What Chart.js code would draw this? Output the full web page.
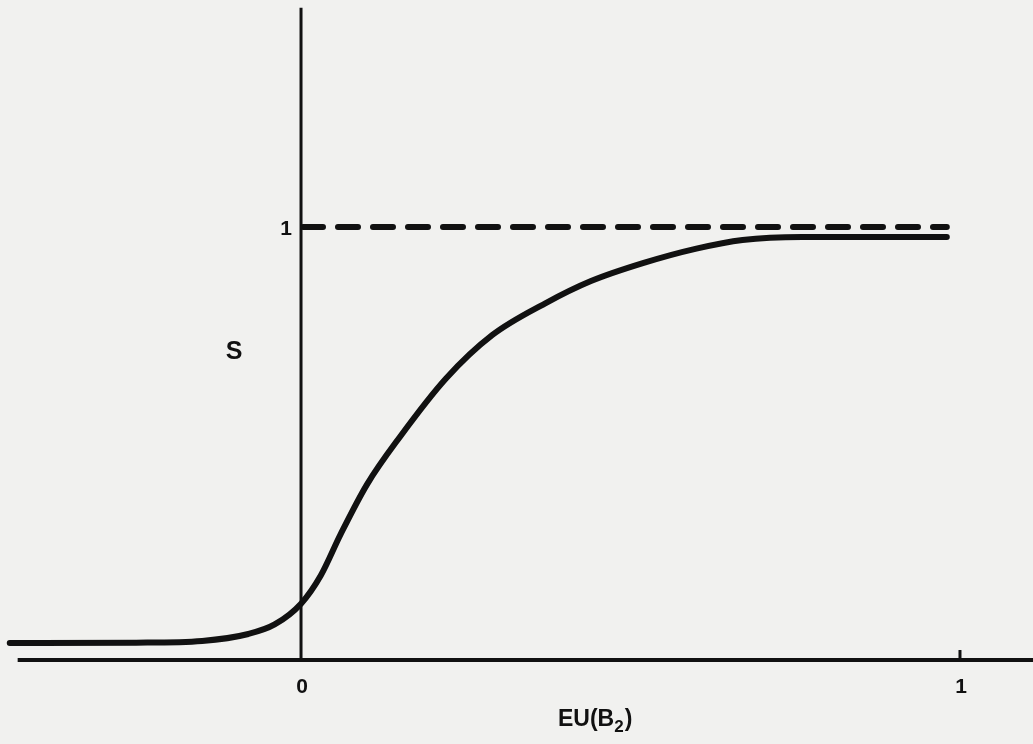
<!DOCTYPE html>
<html>
<head>
<meta charset="utf-8">
<script src="https://cdn.jsdelivr.net/npm/chart.js@4"></script>
<style>
  html, body { margin: 0; padding: 0; background: #f1f1ef; }
  #wrap { width: 1033px; height: 744px; }
</style>
</head>
<body>
<div id="wrap"><canvas id="chart" width="1033" height="744"></canvas></div>
<script>
// S as a function of EU(B2)
const euValues = [-0.442, -0.25, -0.15, -0.08, -0.04, 0.0, 0.03, 0.06, 0.10, 0.15,
  0.22, 0.29, 0.37, 0.44, 0.52, 0.60, 0.67, 0.76, 0.98];
const sValues = [0.039, 0.040, 0.044, 0.060, 0.082, 0.130, 0.195, 0.290, 0.405, 0.515,
  0.650, 0.750, 0.823, 0.875, 0.917, 0.950, 0.970, 0.977, 0.977];

// dashed asymptote S = 1
const asymptoteX = [0.003, 0.98];
const asymptoteY = [1, 1];

// axes and tick
const xAxisX = [-0.43, 1.12];
const yAxisY = [0, 1.506];
const xTickValues = [0, 1];
const yTickValues = [1];
const xTitle = "EU(B";
const xTitleSub = "2";
const yTitle = "S";

const pts = (xs, ys) => xs.map((x, i) => ({ x: x, y: ys[i] }));
const FONT = "'Liberation Sans', Arial, sans-serif";

const labelPlugin = {
  id: "labels",
  afterDraw(chart) {
    const ctx = chart.ctx;
    const xs = chart.scales.x;
    const ys = chart.scales.y;
    const x0 = xs.getPixelForValue(0);
    const y0 = ys.getPixelForValue(0);
    ctx.save();
    ctx.fillStyle = "#111";
    ctx.font = "bold 21px " + FONT;
    ctx.textAlign = "center";
    ctx.textBaseline = "middle";
    xTickValues.forEach((v) => {
      ctx.fillText(String(v), xs.getPixelForValue(v) + 1, y0 + 27);
    });
    yTickValues.forEach((v) => {
      ctx.fillText(String(v), x0 - 15, ys.getPixelForValue(v) + 2);
    });
    ctx.font = "bold 25px " + FONT;
    ctx.fillText(yTitle, x0 - 67, ys.getPixelForValue(0.71));
    // x title with subscript
    ctx.textAlign = "left";
    ctx.font = "bold 23px " + FONT;
    const tx = xs.getPixelForValue(0.39);
    const ty = y0 + 60;
    ctx.fillText(xTitle, tx, ty);
    const w = ctx.measureText(xTitle).width;
    ctx.font = "bold 17px " + FONT;
    ctx.fillText(xTitleSub, tx + w, ty + 7);
    const w2 = ctx.measureText(xTitleSub).width;
    ctx.font = "bold 23px " + FONT;
    ctx.fillText(")", tx + w + w2 + 1, ty);
    ctx.restore();
  },
};

new Chart(document.getElementById("chart"), {
  type: "scatter",
  data: {
    datasets: [
      {
        data: pts(xAxisX, [0, 0]),
        showLine: true, borderColor: "#111", borderWidth: 4, pointRadius: 0,
      },
      {
        data: pts([0, 0], yAxisY),
        showLine: true, borderColor: "#111", borderWidth: 3, pointRadius: 0,
      },
      {
        data: pts([1, 1], [0, 0.023]),
        showLine: true, borderColor: "#111", borderWidth: 3, pointRadius: 0,
      },
      {
        data: pts(asymptoteX, asymptoteY),
        showLine: true, borderColor: "#111", borderWidth: 6, pointRadius: 0,
        borderDash: [20, 15], borderCapStyle: "round",
      },
      {
        data: pts(euValues, sValues),
        showLine: true, borderColor: "#111", borderWidth: 6, pointRadius: 0,
        cubicInterpolationMode: "monotone", borderCapStyle: "round",
      },
    ],
  },
  options: {
    responsive: false,
    animation: false,
    layout: { padding: 0 },
    plugins: { legend: { display: false }, tooltip: { enabled: false } },
    scales: {
      x: { type: "linear", min: -0.4568, max: 1.1108, display: false },
      y: { type: "linear", min: -0.194, max: 1.524, display: false },
    },
  },
  plugins: [labelPlugin],
});
</script>
</body>
</html>
